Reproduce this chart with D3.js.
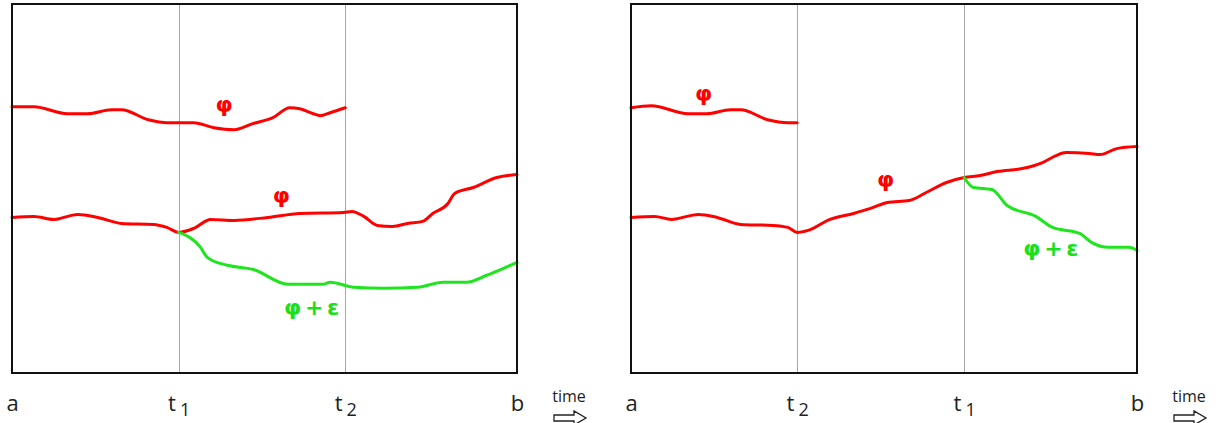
<!DOCTYPE html>
<html>
<head>
<meta charset="utf-8">
<title>phi and phi + epsilon</title>
<style>
  body { margin: 0; background: #fff; }
  svg { display: block; }
  .frame { fill: none; stroke: #111; stroke-width: 2px; }
  .split { stroke: #a6a6a6; stroke-width: 1px; shape-rendering: crispEdges; }
  .curve { fill: none; stroke-width: 3px; stroke-linejoin: round; stroke-linecap: round; }
  .lbl { font-family: "DejaVu Sans", sans-serif; font-weight: bold; font-size: 22px; text-anchor: middle; word-spacing: -4px; }
  .tick text { font-family: "Open Sans", sans-serif; font-size: 22px; fill: #222; }
  .timeLbl { font-family: "Open Sans", sans-serif; font-size: 16px; fill: #222; }
</style>
</head>
<body>
<script src="https://d3js.org/d3.v7.min.js"></script>
<script>
// time runs 0..300 (a=0, b=300), level 0..370
var leftSplits  = [99, 198];
var rightSplits = [98.5, 197.5];
var ticksLeft  = [["a", ""], ["t", "1"], ["t", "2"], ["b", ""]];
var ticksRight = [["a", ""], ["t", "2"], ["t", "1"], ["b", ""]];

// left panel
var leftUpperPhi = [[0,267],[13,267],[33,260],[45,260],[59,264],[65,264],[81,254],[92,251],[108,251],
  [120,246],[132,244],[143,250],[155,256],[165,266],[171,265],[179,260],[183,258],[189,261],[198,266]];
var leftLowerPhi = [[0,156],[13,157],[25,154],[39,159],[51,156],[65,150],[84,149],[92,146],[99,141],
  [108,145],[118,154],[132,153],[152,156],[171,160],[197,161],[202,162],[209,157],[217,148],[226,147],
  [235,150],[244,152],[250,160],[259,170],[263,180],[274,186],[288,196],[300,199]];
var leftPhiEps = [[99,141],[112,126],[116,116],[128,108],[143,104],[164,89],[185,89],[189,91],[203,86],
  [221,85],[241,86],[256,91],[270,91],[282,98],[292,105],[300,111]];

// right panel
var rightUpperPhi = [[0,266],[12,268],[34,260],[45,260],[59,264],[65,264],[81,254],[93,251],[98.5,251]];
var rightLowerPhi = [[0,156],[14,157],[24,154],[40,159],[51,156],[65,149],[84,148],[93,146],[98.5,141],
  [105,143],[118,154],[132,160],[142,165],[152,171],[165,173],[175,181],[187,191],[197.5,196],[207,198],
  [217,202],[232,205],[244,211],[252,218],[258,221],[272,220],[278,219],[288,225],[300,227]];
var rightPhiEps = [[197.5,196],[203,186],[214,184],[223,168],[240,157],[250,146],[266,140],[273,131],
  [283,126],[295,126],[300,123]];

// annotation anchors (time, level)
var leftLabels  = [["φ", 126, 262, "red"], ["φ", 160, 170, "red"], ["φ + ε", 178, 58, "green"]];
var rightLabels = [["φ", 43, 273, "red"], ["φ", 151, 187, "red"], ["φ + ε", 249, 117, "green"]];

var RED = "#ff0000", GREEN = "#1ee51e";

var svg = d3.select("body").append("svg")
    .attr("width", 1216)
    .attr("height", 423);

var panels = [
  {x0: 12, x1: 517, splits: leftSplits, ticks: ticksLeft, red: [leftUpperPhi, leftLowerPhi], green: [leftPhiEps], labels: leftLabels},
  {x0: 631, x1: 1137, splits: rightSplits, ticks: ticksRight, red: [rightUpperPhi, rightLowerPhi], green: [rightPhiEps], labels: rightLabels}
];

panels.forEach(function(p) {
  var x = d3.scaleLinear().domain([0, 300]).range([p.x0, p.x1]);
  var y = d3.scaleLinear().domain([0, 370]).range([373, 4]);
  var g = svg.append("g");

  g.selectAll(".split")
    .data(p.splits)
    .enter().append("line")
    .attr("class", "split")
    .attr("x1", function(d){ return Math.round(x(d)) + 0.5; })
    .attr("x2", function(d){ return Math.round(x(d)) + 0.5; })
    .attr("y1", y(370))
    .attr("y2", y(0));

  var line = d3.line()
    .curve(d3.curveMonotoneX)
    .x(function(d){ return x(d[0]); })
    .y(function(d){ return y(d[1]); });

  g.selectAll(".red")
    .data(p.red)
    .enter().append("path")
    .attr("class", "curve")
    .attr("d", line)
    .style("stroke", RED);

  g.selectAll(".green")
    .data(p.green)
    .enter().append("path")
    .attr("class", "curve")
    .attr("d", line)
    .style("stroke", GREEN);

  g.append("rect")
    .attr("class", "frame")
    .attr("x", x(0))
    .attr("y", y(370))
    .attr("width", x(300) - x(0))
    .attr("height", y(0) - y(370));

  g.selectAll(".lbl")
    .data(p.labels)
    .enter().append("text")
    .attr("class", "lbl")
    .attr("x", function(d){ return x(d[1]); })
    .attr("y", function(d){ return y(d[2]); })
    .style("fill", function(d){ return d[3] == "red" ? RED : "#19e019"; })
    .text(function(d){ return d[0]; });

  // bottom axis: a, t, t, b
  var axis = d3.axisBottom(x)
    .tickValues([0].concat(p.splits, [300]))
    .tickSize(0).tickPadding(0).tickFormat("");
  var ax = g.append("g").attr("transform", "translate(0,373)").call(axis);
  ax.select(".domain").remove();
  ax.selectAll(".tick text")
    .attr("y", 38)
    .attr("dy", null)
    .attr("text-anchor", "middle")
    .each(function(d, i) {
      var t = d3.select(this), lab = p.ticks[i];
      t.append("tspan").text(lab[0]);
      if (lab[1]) {
        t.append("tspan").attr("dx", 4).attr("dy", 5).style("font-size", "18px").text(lab[1]);
      }
    });

  // time arrow
  var tx = x(300) + 35;
  g.append("text")
    .attr("class", "timeLbl")
    .attr("x", tx + 17)
    .attr("y", 402)
    .attr("text-anchor", "middle")
    .text("time");
  var ar = d3.path();
  ar.moveTo(tx + 2, 415);
  ar.lineTo(tx + 22, 415);
  ar.lineTo(tx + 22, 411);
  ar.lineTo(tx + 34, 418);
  ar.lineTo(tx + 22, 425);
  ar.lineTo(tx + 22, 421);
  ar.lineTo(tx + 2, 421);
  ar.closePath();
  g.append("path")
    .attr("d", ar.toString())
    .style("fill", "#fff")
    .style("stroke", "#222")
    .style("stroke-width", 1.3);
});
</script>
</body>
</html>
